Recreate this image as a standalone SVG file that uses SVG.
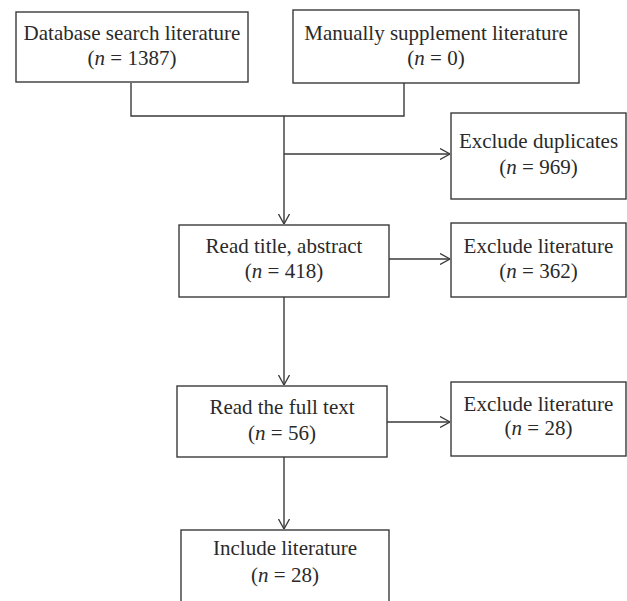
<svg xmlns="http://www.w3.org/2000/svg" width="627" height="601" viewBox="0 0 627 601">
<style>
.box{fill:#fff;stroke:#3a3a3a;stroke-width:1.4}
.ln{fill:none;stroke:#3a3a3a;stroke-width:1.4}
text{font-family:"Liberation Serif","Times New Roman",serif;font-size:21px;fill:#2a2a2a;text-anchor:middle}
.i{font-style:italic}
</style>
<defs>
<marker id="arr" viewBox="0 0 10 12" refX="10" refY="6" markerWidth="10" markerHeight="12" markerUnits="userSpaceOnUse" orient="auto">
<path d="M0,0.5 L10,6 L0,11.5" fill="none" stroke="#3a3a3a" stroke-width="1.3"/>
</marker>
</defs>
<rect width="627" height="601" fill="#fff"/>
<g id="connectors">
<path class="ln" d="M131,83 V116 H404 V83"/>
<path class="ln" d="M284,116 V224" marker-end="url(#arr)"/>
<path class="ln" d="M284,154 H450" marker-end="url(#arr)"/>
<path class="ln" d="M389,259 H450" marker-end="url(#arr)"/>
<path class="ln" d="M284,297 V385" marker-end="url(#arr)"/>
<path class="ln" d="M387,422 H450" marker-end="url(#arr)"/>
<path class="ln" d="M284,457 V529" marker-end="url(#arr)"/>
</g>
<g id="n1">
<rect class="box" x="16" y="12" width="232" height="70"/>
<text x="132" y="40">Database search literature</text>
<text x="132" y="65">(<tspan class="i">n</tspan> = 1387)</text>
</g>
<g id="n2">
<rect class="box" x="293" y="10" width="286" height="73"/>
<text x="436" y="40">Manually supplement literature</text>
<text x="436" y="65">(<tspan class="i">n</tspan> = 0)</text>
</g>
<g id="n3">
<rect class="box" x="451" y="113" width="175" height="86"/>
<text x="538.5" y="148">Exclude duplicates</text>
<text x="538.5" y="174">(<tspan class="i">n</tspan> = 969)</text>
</g>
<g id="n4">
<rect class="box" x="179" y="225" width="210" height="72"/>
<text x="284" y="253">Read title, abstract</text>
<text x="284" y="278">(<tspan class="i">n</tspan> = 418)</text>
</g>
<g id="n5">
<rect class="box" x="451" y="223" width="175" height="74"/>
<text x="538.5" y="253">Exclude literature</text>
<text x="538.5" y="278">(<tspan class="i">n</tspan> = 362)</text>
</g>
<g id="n6">
<rect class="box" x="177" y="386" width="210" height="71"/>
<text x="282" y="414">Read the full text</text>
<text x="282" y="440">(<tspan class="i">n</tspan> = 56)</text>
</g>
<g id="n7">
<rect class="box" x="451" y="382" width="175" height="74"/>
<text x="538.5" y="411">Exclude literature</text>
<text x="538.5" y="435">(<tspan class="i">n</tspan> = 28)</text>
</g>
<g id="n8">
<rect class="box" x="181" y="530" width="208" height="80"/>
<text x="285" y="555">Include literature</text>
<text x="285" y="582">(<tspan class="i">n</tspan> = 28)</text>
</g>
</svg>
